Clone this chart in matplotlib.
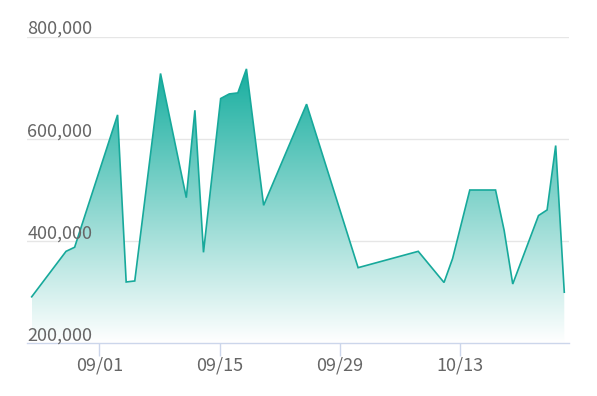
import matplotlib
matplotlib.use('Agg')
import matplotlib.pyplot as plt
import matplotlib.dates as mdates
import numpy as np
from datetime import datetime
from matplotlib.colors import LinearSegmentedColormap

dates = ['2023-08-24', '2023-08-28', '2023-08-29', '2023-09-03', '2023-09-04',
         '2023-09-05', '2023-09-08', '2023-09-11', '2023-09-12', '2023-09-13',
         '2023-09-15', '2023-09-16', '2023-09-17', '2023-09-18', '2023-09-20',
         '2023-09-25', '2023-10-01', '2023-10-08', '2023-10-11', '2023-10-12',
         '2023-10-14', '2023-10-17', '2023-10-18', '2023-10-19', '2023-10-22',
         '2023-10-23', '2023-10-24', '2023-10-25']
values = [291000, 380000, 388000, 647000, 320000,
          322000, 728000, 485000, 656000, 378000,
          679000, 688000, 690000, 737000, 470000,
          668000, 348000, 380000, 319000, 366000,
          500000, 500000, 421000, 316000, 450000,
          461000, 587000, 300000]
tick_dates = ['2023-09-01', '2023-09-15', '2023-09-29', '2023-10-13']
tick_labels = ['09/01', '09/15', '09/29', '10/13']
y_ticks = [200000, 400000, 600000, 800000]
y_labels = ['200,000', '400,000', '600,000', '800,000']

line_color = '#17a99b'
top_color = '#17ae9f'
label_color = '#666666'
font = ['Noto Sans CJK SC', 'DejaVu Sans']

x = mdates.date2num([datetime.strptime(d, '%Y-%m-%d') for d in dates])
y = np.array(values, dtype=float)
ymin, ymax = 200000, 800000

fig = plt.figure(figsize=(5.97, 3.96), dpi=100)
ax = fig.add_axes([27.3 / 597, 1 - 343.3 / 396, (569 - 27.3) / 597, (343.3 - 36.7) / 396])

# gradient fill
poly = ax.fill_between(x, y, ymin, facecolor='none', edgecolor='none')
cmap = LinearSegmentedColormap.from_list('g', ['#ffffff', top_color])
grad = np.linspace(0, 1, 256).reshape(-1, 1)
im = ax.imshow(grad, aspect='auto', cmap=cmap, origin='lower',
               extent=[x[0], x[-1], ymin, y.max()], zorder=2, interpolation='bicubic')
path = poly.get_paths()[0]
im.set_clip_path(path, ax.transData)
ax.set_xlim(x[0] - 0.51, x[-1] + 0.55)
ax.set_ylim(ymin, ymax)

ax.plot(x, y, color=line_color, lw=1.2, zorder=3, solid_joinstyle='miter')

# grid
for v in y_ticks[1:]:
    ax.axhline(v, color='#e6e6e6', lw=1.0, zorder=1)

for s in ['top', 'right', 'left']:
    ax.spines[s].set_visible(False)
ax.spines['bottom'].set_color('#ccd6eb')
ax.spines['bottom'].set_linewidth(1.0)
ax.spines['bottom'].set_zorder(4)

ax.set_yticks([])
tx = mdates.date2num([datetime.strptime(d, '%Y-%m-%d') for d in tick_dates]) - 0.12
ax.set_xticks(tx)
ax.set_xticklabels(tick_labels, fontsize=13, color=label_color, family=font)
ax.tick_params(axis='x', length=9.5, width=1.0, color='#ccd6eb', pad=0)

for v, lab in zip(y_ticks, y_labels):
    ax.annotate(lab, xy=(0, v), xycoords=('axes fraction', 'data'),
                xytext=(0, -1), textcoords='offset points',
                ha='left', va='bottom', fontsize=13, color=label_color,
                family=font, zorder=5)

fig.savefig('out.png', dpi=100)
